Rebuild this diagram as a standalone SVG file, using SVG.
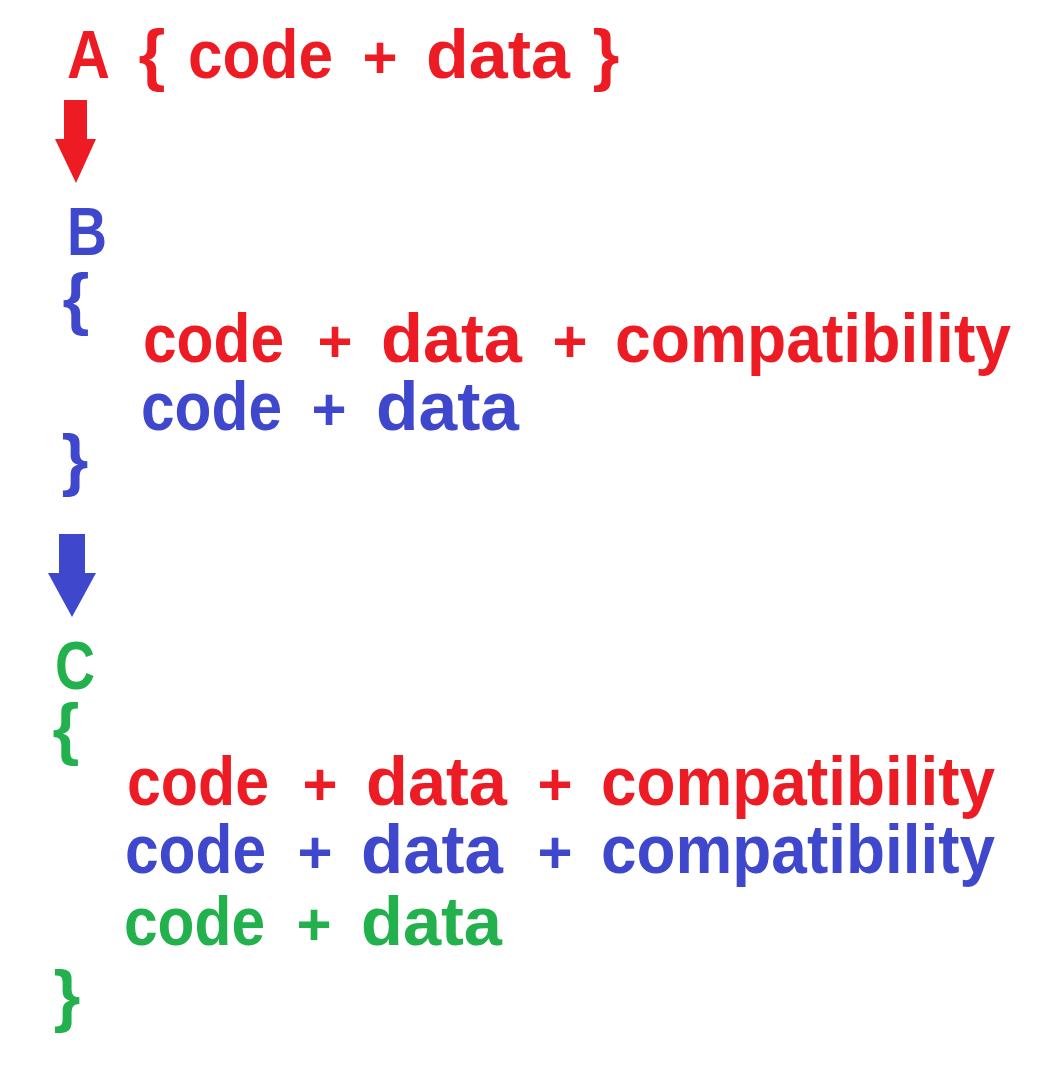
<svg xmlns="http://www.w3.org/2000/svg" width="1039" height="1083" viewBox="0 0 1039 1083">
  <style>
    text { font-family: "Comic Sans MS", "Liberation Sans", sans-serif; font-weight: bold; font-size: 69px; }
    .r { fill: #ED1C24; }
    .b { fill: #3F48CC; }
    .g { fill: #22B14C; }
    .m { text-anchor: middle; }
    .p { font-size: 60px; text-anchor: middle; }
  </style>
  <rect width="1039" height="1083" fill="#ffffff"/>

  <!-- node A -->
  <g id="nodeA">
    <text class="r" x="67" y="78" textLength="43" lengthAdjust="spacingAndGlyphs">A</text>
    <text class="r m" x="152" y="78">{</text>
    <text class="r" x="188" y="78" textLength="145" lengthAdjust="spacingAndGlyphs">code</text>
    <text class="r p" x="380" y="78">+</text>
    <text class="r" x="426" y="78" textLength="144" lengthAdjust="spacingAndGlyphs">data</text>
    <text class="r m" x="606" y="78">}</text>
  </g>

  <!-- node B -->
  <g id="nodeB">
    <text class="b" x="67" y="255" textLength="40" lengthAdjust="spacingAndGlyphs">B</text>
    <text class="b m" x="76" y="322">{</text>
    <text class="r" y="362"><tspan x="143" textLength="141" lengthAdjust="spacingAndGlyphs">code</tspan><tspan class="p" x="335">+</tspan><tspan x="381" textLength="141" lengthAdjust="spacingAndGlyphs">data</tspan><tspan class="p" x="570">+</tspan><tspan x="615" textLength="396" lengthAdjust="spacingAndGlyphs">compatibility</tspan></text>
    <text class="b" y="430"><tspan x="141" textLength="141" lengthAdjust="spacingAndGlyphs">code</tspan><tspan class="p" x="329">+</tspan><tspan x="376" textLength="143" lengthAdjust="spacingAndGlyphs">data</tspan></text>
    <text class="b m" x="75" y="483">}</text>
  </g>

  <!-- node C -->
  <g id="nodeC">
    <text class="g" x="55" y="689" textLength="40" lengthAdjust="spacingAndGlyphs">C</text>
    <text class="g m" x="66" y="752">{</text>
    <text class="r" y="805"><tspan x="127" textLength="142" lengthAdjust="spacingAndGlyphs">code</tspan><tspan class="p" x="320">+</tspan><tspan x="366" textLength="141" lengthAdjust="spacingAndGlyphs">data</tspan><tspan class="p" x="555">+</tspan><tspan x="601" textLength="394" lengthAdjust="spacingAndGlyphs">compatibility</tspan></text>
    <text class="b" y="873"><tspan x="125" textLength="141" lengthAdjust="spacingAndGlyphs">code</tspan><tspan class="p" x="315">+</tspan><tspan x="361" textLength="142" lengthAdjust="spacingAndGlyphs">data</tspan><tspan class="p" x="555">+</tspan><tspan x="601" textLength="394" lengthAdjust="spacingAndGlyphs">compatibility</tspan></text>
    <text class="g" y="945"><tspan x="124" textLength="141" lengthAdjust="spacingAndGlyphs">code</tspan><tspan class="p" x="314">+</tspan><tspan x="361" textLength="141" lengthAdjust="spacingAndGlyphs">data</tspan></text>
    <text class="g m" x="67" y="1019">}</text>
  </g>

  <!-- block arrows between nodes -->
  <g id="connectors">
    <polygon class="r" points="64,100 87,100 87,139 96,139 76,183 55,139 64,139"/>
    <polygon class="b" points="59,534 85,534 85,573 96,573 72,617 48,573 59,573"/>
  </g>
</svg>
